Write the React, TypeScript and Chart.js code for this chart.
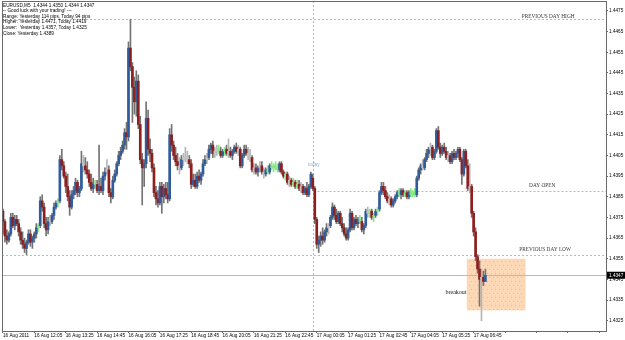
import React, { useEffect, useRef } from "react";
import { Chart, registerables } from "chart.js";

Chart.register(...registerables);

// ---------- text ----------
const headerLines = [
  "EURUSD,M5  1.4344 1.4350 1.4344 1.4347",
  "-- Good luck with your trading! ---",
  "Range: Yesterday 114 pips, Today 94 pips",
  "Higher: Yesterday 1.4471, Today 1.4419",
  "Lower:  Yesterday 1.4357, Today 1.4325",
  "Close: Yesterday 1.4389",
];

const timeLabels = [
  "16 Aug 2011", "16 Aug 12:05", "16 Aug 13:25", "16 Aug 14:45", "16 Aug 16:05",
  "16 Aug 17:25", "16 Aug 18:45", "16 Aug 20:05", "16 Aug 21:25", "16 Aug 22:45",
  "17 Aug 00:05", "17 Aug 01:25", "17 Aug 02:45", "17 Aug 04:05", "17 Aug 05:25",
  "17 Aug 06:45",
];
const barsPerLabel = 16;
const slotCount = 308;

const yTickValues = [
  1.4325, 1.4335, 1.4345, 1.4355, 1.4365, 1.4375, 1.4385, 1.4395,
  1.4405, 1.4415, 1.4425, 1.4435, 1.4445, 1.4455, 1.4465, 1.4475,
];
const yMin = 1.432;
const yMax = 1.44798;

// ---------- levels ----------
const prevDayHigh = 1.4471;
const dayOpen = 1.4388;
const prevDayLow = 1.4357;
const currentPrice = 1.4347;
const todayIndex = 159;
const boxFirst = 237;
const boxLast = 266;
const boxHigh = 1.4355;
const boxLow = 1.433;
const levelLabelIndex = 278;
const breakoutIndex = 231;
const breakoutPrice = 1.43385;
const todayLabelPrice = 1.44005;

// ---------- OHLC (M5 bars) ----------
const opens = [
  1.4378,1.4373,1.4366,1.4364,1.4367,1.4375,1.4371,1.4374,1.4372,1.4368,
  1.4364,1.4362,1.4360,1.4363,1.4367,1.4363,1.4365,1.4367,1.4370,1.4371,
  1.4383,1.4380,1.4372,1.4369,1.4373,1.4373,1.4376,1.4380,1.4382,1.4383,1.4403,
  1.4400,1.4395,1.4390,1.4385,1.4380,1.4386,1.4388,1.4392,1.4387,1.4389,
  1.4401,1.4400,1.4398,1.4396,1.4392,1.4389,1.4391,1.4391,1.4388,1.4390,1.4388,
  1.4395,1.4397,1.4398,1.4387,1.4385,1.4393,1.4396,1.4401,1.4405,1.4407,
  1.4410,1.4416,1.4414,1.4457,1.4448,1.4438,1.4431,1.4441,1.4420,1.4403,
  1.4399,1.4401,1.4423,1.4408,1.4406,1.4399,1.4387,1.4384,1.4382,1.4390,
  1.4385,1.4389,1.4386,1.4384,1.4415,1.4410,1.4405,1.4402,1.4400,1.4399,
  1.4403,1.4404,1.4404,1.4403,1.4401,1.4391,1.4393,1.4390,1.4395,1.4393,
  1.4396,1.4401,1.4403,1.4404,1.4408,1.4410,1.4406,1.4407,1.4408,1.4407,
  1.4405,1.4407,1.4408,1.4406,1.4407,1.4405,1.4407,1.4409,1.4407,1.4408,
  1.4400,1.4405,1.4408,1.4406,1.4405,1.4404,1.4398,1.4399,1.4397,1.4399,
  1.4400,1.4397,1.4396,1.4398,1.4397,1.4400,1.4399,1.4400,1.4399,1.4398,
  1.4401,1.4397,1.4395,1.4396,1.4392,1.4393,1.4391,1.4392,1.4390,1.4391,
  1.4389,1.4390,1.4387,1.4389,1.4386,1.4390,1.4394,1.4389,
  1.4374,1.4362,1.4364,1.4366,1.4364,1.4368,1.4370,1.4371,1.4375,1.4380,
  1.4376,1.4373,1.4377,1.4372,1.4370,1.4367,1.4365,1.4369,1.4377,1.4370,
  1.4374,1.4372,1.4374,1.4373,1.4369,1.4371,1.4378,1.4377,1.4378,1.4375,
  1.4376,1.4378,1.4379,1.4387,1.4390,1.4388,1.4385,1.4383,1.4384,1.4381,
  1.4383,1.4385,1.4387,1.4386,1.4388,1.4386,1.4387,1.4385,1.4387,1.4386,
  1.4387,1.4386,1.4394,1.4398,1.4400,1.4399,1.4403,1.4406,1.4408,1.4409,
  1.4404,1.4407,1.4417,1.4409,1.4406,1.4409,1.4407,1.4404,1.4405,1.4402,
  1.4406,1.4404,1.4406,1.4408,1.4403,1.4396,1.4407,1.4400,1.4389,1.4390,
  1.4377,1.4368,1.4356,1.4350,1.4345,1.4346,1.4344,
];
const highs = [
  1.4379,1.4374,1.4369,1.4368,1.4377,1.4377,1.4376,1.4376,1.4374,1.4370,
  1.4368,1.4365,1.4364,1.4369,1.4369,1.4366,1.4368,1.4372,1.4372,1.4385,
  1.4386,1.4382,1.4375,1.4375,1.4376,1.4377,1.4382,1.4383,1.4384,1.4405,1.4408,
  1.4402,1.4397,1.4396,1.4388,1.4388,1.4390,1.4394,1.4393,1.4390,1.4407,
  1.4405,1.4404,1.4402,1.4398,1.4396,1.4394,1.4393,1.4393,1.4410,1.4394,1.4397,
  1.4399,1.4403,1.4400,1.4389,1.4395,1.4398,1.4402,1.4407,1.4409,1.4412,
  1.4418,1.4421,1.4460,1.4471,1.4450,1.4443,1.4446,1.4444,1.4424,1.4406,
  1.4403,1.4431,1.4427,1.4413,1.4408,1.4401,1.4390,1.4388,1.4392,1.4392,
  1.4391,1.4392,1.4392,1.4418,1.4420,1.4412,1.4409,1.4406,1.4404,1.4405,
  1.4406,1.4409,1.4407,1.4405,1.4403,1.4396,1.4396,1.4397,1.4398,1.4397,
  1.4403,1.4405,1.4406,1.4410,1.4411,1.4412,1.4409,1.4410,1.4410,1.4409,
  1.4408,1.4409,1.4410,1.4413,1.4409,1.4408,1.4410,1.4411,1.4410,1.4409,
  1.4406,1.4410,1.4410,1.4409,1.4408,1.4405,1.4401,1.4401,1.4400,1.4402,
  1.4402,1.4399,1.4399,1.4400,1.4401,1.4402,1.4401,1.4402,1.4401,1.4402,
  1.4402,1.4398,1.4397,1.4397,1.4395,1.4394,1.4394,1.4393,1.4393,1.4393,
  1.4392,1.4391,1.4390,1.4392,1.4391,1.4397,1.4396,1.4390,
  1.4375,1.4366,1.4368,1.4370,1.4369,1.4372,1.4372,1.4376,1.4382,1.4381,
  1.4379,1.4378,1.4378,1.4375,1.4372,1.4370,1.4370,1.4379,1.4378,1.4375,
  1.4376,1.4375,1.4376,1.4375,1.4372,1.4379,1.4380,1.4379,1.4379,1.4377,
  1.4379,1.4380,1.4388,1.4392,1.4392,1.4390,1.4387,1.4386,1.4385,1.4384,
  1.4386,1.4388,1.4389,1.4389,1.4389,1.4388,1.4388,1.4388,1.4389,1.4388,
  1.4389,1.4395,1.4399,1.4401,1.4403,1.4404,1.4408,1.4409,1.4411,1.4410,
  1.4408,1.4418,1.4419,1.4411,1.4410,1.4411,1.4409,1.4407,1.4406,1.4407,
  1.4408,1.4407,1.4409,1.4409,1.4404,1.4408,1.4408,1.4403,1.4401,1.4391,
  1.4378,1.4370,1.4357,1.4354,1.4350,1.4349,1.4350,
];
const lows = [
  1.4367,1.4363,1.4362,1.4363,1.4366,1.4370,1.4369,1.4371,1.4366,1.4362,
  1.4360,1.4358,1.4357,1.4362,1.4361,1.4360,1.4363,1.4365,1.4368,1.4370,
  1.4378,1.4370,1.4366,1.4367,1.4371,1.4372,1.4374,1.4379,1.4380,1.4382,1.4398,
  1.4394,1.4387,1.4383,1.4376,1.4379,1.4384,1.4386,1.4385,1.4385,1.4388,
  1.4397,1.4396,1.4394,1.4390,1.4388,1.4387,1.4389,1.4387,1.4386,1.4387,1.4386,
  1.4393,1.4396,1.4385,1.4382,1.4384,1.4392,1.4395,1.4400,1.4403,1.4406,
  1.4408,1.4408,1.4412,1.4446,1.4421,1.4425,1.4424,1.4418,1.4401,1.4381,
  1.4390,1.4399,1.4405,1.4402,1.4397,1.4385,1.4381,1.4380,1.4381,1.4377,
  1.4382,1.4384,1.4382,1.4383,1.4407,1.4403,1.4400,1.4398,1.4396,1.4398,
  1.4400,1.4402,1.4401,1.4399,1.4389,1.4390,1.4389,1.4389,1.4392,1.4391,
  1.4395,1.4400,1.4401,1.4403,1.4406,1.4404,1.4404,1.4405,1.4406,1.4404,
  1.4404,1.4405,1.4405,1.4404,1.4404,1.4403,1.4406,1.4406,1.4405,1.4399,
  1.4399,1.4404,1.4405,1.4403,1.4402,1.4397,1.4396,1.4396,1.4395,1.4397,
  1.4396,1.4394,1.4395,1.4396,1.4396,1.4398,1.4397,1.4398,1.4397,1.4397,
  1.4396,1.4394,1.4393,1.4391,1.4390,1.4390,1.4390,1.4389,1.4389,1.4388,
  1.4387,1.4386,1.4386,1.4385,1.4385,1.4389,1.4388,1.4372,
  1.4360,1.4358,1.4361,1.4362,1.4363,1.4366,1.4367,1.4370,1.4374,1.4374,
  1.4372,1.4372,1.4371,1.4368,1.4366,1.4364,1.4364,1.4368,1.4369,1.4369,
  1.4371,1.4370,1.4372,1.4368,1.4367,1.4370,1.4375,1.4375,1.4374,1.4373,
  1.4375,1.4376,1.4378,1.4386,1.4386,1.4384,1.4382,1.4381,1.4380,1.4380,
  1.4382,1.4384,1.4385,1.4384,1.4385,1.4385,1.4384,1.4384,1.4385,1.4385,
  1.4385,1.4385,1.4393,1.4396,1.4398,1.4398,1.4402,1.4404,1.4405,1.4403,
  1.4403,1.4406,1.4408,1.4404,1.4405,1.4406,1.4403,1.4402,1.4401,1.4401,
  1.4403,1.4403,1.4404,1.4402,1.4391,1.4395,1.4399,1.4388,1.4387,1.4375,
  1.4366,1.4354,1.4348,1.4332,1.4325,1.4342,1.4344,
];
const closes = [
  1.4373,1.4366,1.4364,1.4367,1.4375,1.4371,1.4374,1.4372,1.4368,1.4364,
  1.4362,1.4360,1.4363,1.4367,1.4363,1.4365,1.4367,1.4370,1.4371,1.4383,
  1.4380,1.4372,1.4369,1.4373,1.4374,1.4376,1.4380,1.4382,1.4383,1.4403,1.4400,
  1.4395,1.4390,1.4385,1.4380,1.4386,1.4388,1.4392,1.4387,1.4389,1.4401,
  1.4400,1.4398,1.4396,1.4392,1.4389,1.4391,1.4391,1.4388,1.4390,1.4388,1.4395,
  1.4397,1.4398,1.4387,1.4385,1.4393,1.4396,1.4401,1.4405,1.4407,1.4410,
  1.4416,1.4414,1.4457,1.4448,1.4438,1.4431,1.4441,1.4420,1.4403,1.4399,
  1.4401,1.4423,1.4408,1.4406,1.4399,1.4387,1.4384,1.4382,1.4390,1.4385,
  1.4389,1.4386,1.4384,1.4415,1.4410,1.4405,1.4402,1.4400,1.4399,1.4403,
  1.4404,1.4404,1.4403,1.4401,1.4391,1.4393,1.4390,1.4395,1.4393,1.4396,
  1.4401,1.4403,1.4404,1.4408,1.4410,1.4406,1.4407,1.4408,1.4407,1.4405,
  1.4407,1.4408,1.4406,1.4407,1.4405,1.4407,1.4409,1.4407,1.4408,1.4400,
  1.4405,1.4408,1.4406,1.4405,1.4404,1.4398,1.4399,1.4397,1.4399,1.4400,
  1.4397,1.4396,1.4398,1.4397,1.4400,1.4399,1.4400,1.4399,1.4398,1.4401,
  1.4397,1.4395,1.4396,1.4392,1.4393,1.4391,1.4392,1.4390,1.4391,1.4389,
  1.4390,1.4387,1.4389,1.4386,1.4390,1.4396,1.4389,1.4374,
  1.4362,1.4364,1.4366,1.4364,1.4368,1.4370,1.4371,1.4375,1.4380,1.4376,
  1.4373,1.4377,1.4372,1.4370,1.4367,1.4365,1.4369,1.4377,1.4370,1.4374,
  1.4372,1.4374,1.4373,1.4369,1.4371,1.4378,1.4377,1.4378,1.4375,1.4376,
  1.4378,1.4379,1.4387,1.4390,1.4388,1.4385,1.4383,1.4384,1.4381,1.4383,
  1.4385,1.4387,1.4386,1.4388,1.4386,1.4387,1.4385,1.4387,1.4386,1.4387,
  1.4386,1.4394,1.4398,1.4400,1.4399,1.4403,1.4406,1.4408,1.4409,1.4404,
  1.4407,1.4417,1.4409,1.4406,1.4409,1.4407,1.4404,1.4405,1.4402,1.4406,
  1.4404,1.4406,1.4408,1.4403,1.4396,1.4407,1.4400,1.4389,1.4390,1.4377,
  1.4368,1.4356,1.4350,1.4345,1.4346,1.4344,1.4347,
];

// ---------- styling ----------
const UP = "#2e5c9c";
const DOWN = "#8e1f1f";
const FLAT = "#c4c4c4";
const QUIET = "#86e886";
const WICK = "#737373";
const LEVEL = "#f2b04e";
const SANS = "'Liberation Sans', Arial, sans-serif";
const SERIF = "'Liberation Serif', 'Times New Roman', serif";
const SMALL = 4.7;

function bodyColor(i: number): string {
  const d = Math.round(Math.abs(closes[i] - opens[i]) * 10000);
  const r = Math.round((highs[i] - lows[i]) * 10000);
  if (d <= 1) return r <= 4 ? QUIET : FLAT;
  return closes[i] > opens[i] ? UP : DOWN;
}
function wickColor(i: number): string {
  const c = bodyColor(i);
  if (c === QUIET) return QUIET;
  if (c === FLAT) return "#b5b5b5";
  return WICK;
}

const slotLabels: string[] = Array.from({ length: slotCount }, (_, i) =>
  i % barsPerLabel === 0 && i / barsPerLabel < timeLabels.length ? timeLabels[i / barsPerLabel] : ""
);

const decorations = {
  id: "decorations",
  beforeDatasetsDraw(chart: any) {
    const { ctx, chartArea: a } = chart;
    const x = chart.scales.x;
    const y = chart.scales.y;
    const slot = x.getPixelForValue(1) - x.getPixelForValue(0);
    ctx.save();
    // breakout box
    const bx1 = x.getPixelForValue(boxFirst) - slot / 2;
    const bx2 = x.getPixelForValue(boxLast) + slot / 2;
    const by1 = y.getPixelForValue(boxHigh);
    const by2 = y.getPixelForValue(boxLow);
    ctx.fillStyle = "#fdd8b6";
    ctx.fillRect(bx1, by1, bx2 - bx1, by2 - by1);
    ctx.fillStyle = "rgba(235,165,110,0.55)";
    let row = 0;
    for (let yy = Math.ceil(by1) + 2; yy < by2 - 1; yy += 4, row++) {
      for (let xx = Math.ceil(bx1) + 2 + (row % 2) * 2; xx < bx2 - 1; xx += 4) {
        ctx.fillRect(xx, yy, 1, 1);
      }
    }
    const todayX = Math.round(x.getPixelForValue(todayIndex) - slot / 2) - 0.5;
    const hline = (v: number, x0: number, color: string, dash: number[]) => {
      const py = Math.round(y.getPixelForValue(v)) + 0.5;
      ctx.beginPath();
      ctx.setLineDash(dash);
      ctx.strokeStyle = color;
      ctx.lineWidth = 1;
      ctx.moveTo(x0, py);
      ctx.lineTo(a.right, py);
      ctx.stroke();
    };
    hline(prevDayHigh, a.left, LEVEL, [2, 2]);
    hline(dayOpen, todayX, LEVEL, [2, 2]);
    hline(prevDayLow, a.left, LEVEL, [2, 2]);
    hline(currentPrice, a.left, "#b8b8b8", []);
    // today separator
    ctx.beginPath();
    ctx.setLineDash([2, 2]);
    ctx.strokeStyle = "#b4b4b4";
    ctx.moveTo(todayX, a.top);
    ctx.lineTo(todayX, a.bottom);
    ctx.stroke();
    ctx.restore();
  },
  afterDatasetsDraw(chart: any) {
    const { ctx } = chart;
    const x = chart.scales.x;
    const y = chart.scales.y;
    const slot = x.getPixelForValue(1) - x.getPixelForValue(0);
    ctx.save();
    // level labels
    ctx.fillStyle = "#3a3a3a";
    ctx.font = `5.3px ${SERIF}`;
    ctx.textAlign = "center";
    ctx.textBaseline = "bottom";
    const lx = x.getPixelForValue(levelLabelIndex);
    ctx.fillText("PREVIOUS DAY HIGH", lx, y.getPixelForValue(prevDayHigh) + 0.5);
    ctx.fillText("DAY OPEN", lx - 6, y.getPixelForValue(dayOpen) - 2.5);
    ctx.fillText("PREVIOUS DAY LOW", lx - 3, y.getPixelForValue(prevDayLow) - 2.5);
    // breakout
    ctx.fillStyle = "#111";
    ctx.font = `6px ${SERIF}`;
    ctx.textBaseline = "middle";
    ctx.fillText("breakout", x.getPixelForValue(breakoutIndex), y.getPixelForValue(breakoutPrice));
    // today
    ctx.fillStyle = "#8eb0cf";
    ctx.font = `${SMALL}px ${SANS}`;
    ctx.fillText("today", x.getPixelForValue(todayIndex) - slot / 2, y.getPixelForValue(todayLabelPrice));
    // header block
    ctx.fillStyle = "#000";
    ctx.textAlign = "left";
    ctx.font = `${SMALL}px ${SANS}`;
    headerLines.forEach((t, k) => ctx.fillText(t, 3, 5.3 + k * 5.6));
    ctx.restore();
  },
  afterDraw(chart: any) {
    const { ctx, chartArea: a } = chart;
    const y = chart.scales.y;
    ctx.save();
    ctx.strokeStyle = "#6a6a6a";
    ctx.lineWidth = 1;
    ctx.setLineDash([]);
    ctx.strokeRect(a.left + 0.5, a.top + 0.5, a.right - a.left, a.bottom - a.top);
    // current price tag
    const py = y.getPixelForValue(currentPrice);
    ctx.fillStyle = "#000";
    ctx.fillRect(a.right + 1, py - 3.5, 625 - a.right - 1, 7);
    ctx.fillStyle = "#fff";
    ctx.font = `${SMALL}px ${SANS}`;
    ctx.textAlign = "left";
    ctx.textBaseline = "middle";
    ctx.fillText(currentPrice.toFixed(4), a.right + 3, py);
    ctx.restore();
  },
};

export default function App() {
  const canvasRef = useRef<HTMLCanvasElement | null>(null);

  useEffect(() => {
    document.body.style.margin = "0";
    const canvas = canvasRef.current;
    if (!canvas) return;
    const bodies = opens.map((o, i) => [o, closes[i]]);
    const wicks = lows.map((l, i) => [l, highs[i]]);
    const chart = new Chart(canvas, {
      type: "bar",
      data: {
        labels: slotLabels,
        datasets: [
          {
            data: bodies as any,
            backgroundColor: opens.map((_, i) => bodyColor(i)),
            barThickness: 2,
            minBarLength: 1,
            grouped: false,
            borderWidth: 0,
            order: 0,
          } as any,
          {
            data: wicks as any,
            backgroundColor: lows.map((_, i) => wickColor(i)),
            barThickness: 1,
            grouped: false,
            borderWidth: 0,
            order: 1,
          } as any,
        ],
      },
      options: {
        animation: false,
        responsive: false,
        devicePixelRatio: 1,
        events: [],
        layout: { padding: { left: 2, top: 1, right: 0, bottom: 0 } },
        plugins: { legend: { display: false }, tooltip: { enabled: false } },
        scales: {
          x: {
            type: "category",
            offset: true,
            border: { display: false },
            grid: {
              display: true,
              drawOnChartArea: false,
              drawTicks: true,
              tickLength: 2,
              offset: false,
              color: (c: any) => (c.index % barsPerLabel === 0 ? "#666" : "rgba(0,0,0,0)"),
            },
            ticks: {
              autoSkip: false,
              maxRotation: 0,
              minRotation: 0,
              align: "start",
              padding: 0,
              color: "#000",
              font: { family: SANS, size: SMALL },
            },
            afterFit: (s: any) => {
              s.height = 9;
              s.paddingLeft = 0;
              s.paddingRight = 0;
            },
          },
          y: {
            type: "linear",
            position: "right",
            min: yMin,
            max: yMax,
            border: { display: false },
            grid: { drawOnChartArea: false, drawTicks: true, tickLength: 2, color: "#666" },
            afterBuildTicks: (s: any) => {
              s.ticks = yTickValues.map((v) => ({ value: v }));
            },
            ticks: {
              padding: 1,
              color: "#000",
              font: { family: SANS, size: SMALL },
              callback: (v: any) => Number(v).toFixed(4),
            },
            afterFit: (s: any) => {
              s.width = 19;
              s.paddingTop = 0;
              s.paddingBottom = 0;
            },
          },
        },
      } as any,
      plugins: [decorations],
    });
    return () => chart.destroy();
  }, []);

  return (
    <div style={{ width: 625, height: 340, background: "#fff" }}>
      <canvas ref={canvasRef} width={625} height={340} />
    </div>
  );
}
